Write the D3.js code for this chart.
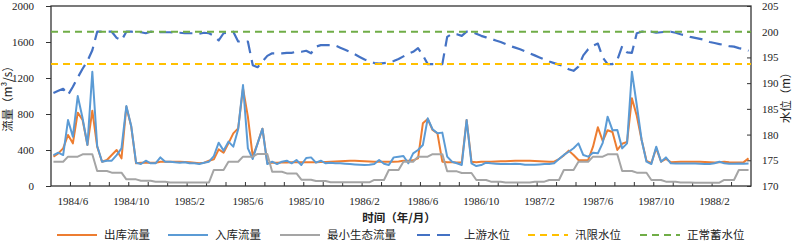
<!DOCTYPE html>
<html><head><meta charset="utf-8">
<script src="https://cdn.jsdelivr.net/npm/d3@7"></script>
<style>
html,body{margin:0;padding:0;background:#fff;}
svg{display:block;}
.num{font-family:"Liberation Serif","Times New Roman",serif;font-size:11px;fill:#222;}
.cjk{font-family:"Noto Sans CJK SC","Noto Sans",sans-serif;fill:#222;}
</style></head>
<body>
<svg id="chart" width="798" height="242"></svg>
<script>
// 10-day periods (旬), 144 of them
const periods = d3.range(144);

const outflow = [
 326, 363, 418, 567, 474, 815, 733, 456, 837, 437, 270, 289,
 344, 400, 307, 880, 660, 252, 259, 259, 259, 259, 270, 270,
 270, 270, 270, 268, 263, 259, 252, 259, 281, 296, 407, 370,
 474, 585, 640, 1085, 770, 326, 474, 637, 255, 259, 259, 262,
 262, 265, 265, 265, 265, 265, 265, 268, 268, 270, 272, 275,
 278, 281, 281, 278, 275, 272, 270, 270, 270, 270, 270, 272,
 281, 281, 285, 307, 696, 744, 622, 585, 270, 265, 265, 262,
 262, 733, 270, 265, 270, 270, 270, 272, 275, 275, 278, 280,
 281, 281, 281, 278, 275, 272, 270, 270, 300, 340, 393, 344,
 289, 285, 289, 437, 652, 500, 620, 600, 400, 470, 490, 974,
 780, 511, 280, 255, 420, 270, 300, 265, 268, 270, 270, 270,
 270, 270, 268, 265, 262, 265, 270, 265, 262, 262, 265, 307
];

const inflow = [
 344, 370, 344, 733, 548, 1000, 752, 456, 1270, 444, 270, 281,
 281, 344, 418, 889, 667, 259, 244, 281, 252, 252, 318, 270,
 270, 263, 259, 263, 252, 252, 244, 259, 270, 333, 481, 393,
 493, 437, 630, 1122, 418, 300, 474, 637, 244, 270, 244, 270,
 281, 252, 289, 233, 311, 318, 259, 281, 252, 259, 252, 252,
 248, 244, 240, 236, 233, 236, 244, 289, 248, 233, 318, 326,
 333, 252, 363, 400, 456, 752, 630, 585, 593, 326, 270, 252,
 233, 733, 252, 222, 233, 259, 252, 248, 244, 244, 244, 248,
 244, 237, 237, 237, 240, 244, 244, 252, 300, 345, 381, 420,
 474, 344, 326, 370, 363, 480, 770, 620, 622, 418, 474, 1270,
 900, 511, 270, 244, 437, 270, 318, 252, 250, 250, 250, 250,
 250, 248, 244, 244, 252, 270, 252, 248, 248, 250, 248, 250
];

const minEcoFlow = [
 270,270,270, 326,326,326, 352,352,352, 167,167,167,
 148,148,148, 74,74,74, 59,59,59, 48,48,48,
 40,40,40, 40,40,40, 40,40,40, 178,178,178,
 270,270,270, 326,326,326, 356,356,356, 159,159,159,
 140,140,140, 70,70,70, 55,55,55, 41,41,41,
 41,41,41, 41,41,41, 67,67,67, 178,178,178,
 270,270,270, 326,326,326, 354,354,354, 163,163,163,
 145,145,145, 67,67,67, 48,48,48, 40,40,40,
 40,40,40, 48,48,48, 67,67,67, 178,178,178,
 270,270,270, 326,326,326, 352,352,352, 167,167,167,
 148,148,148, 67,67,67, 48,48,48, 40,40,40,
 37,37,37, 37,37,37, 67,67,67, 178,178,178
];

const upstreamLevel = [
 188.1, 188.5, 188.9, 187.7, 189.3, 191.1, 192.8, 194.3, 196.4, 200.0, 200.0, 200.0,
 200.0, 198.8, 198.3, 200.0, 200.0, 199.9, 199.9, 199.7, 200.0, 199.9, 199.9, 199.9,
 199.9, 199.8, 199.8, 199.7, 199.7, 199.7, 199.6, 199.8, 199.7, 199.2, 198.3, 199.7,
 199.8, 200.0, 198.1, 198.1, 198.1, 193.5, 193.1, 194.2, 195.3, 195.8, 195.8, 195.8,
 195.9, 195.9, 196.1, 196.1, 196.3, 195.8, 197.1, 197.4, 197.4, 197.4, 197.3, 196.9,
 196.5, 196.1, 195.6, 195.1, 194.6, 194.3, 193.9, 193.8, 193.9, 194.0, 194.3, 194.7,
 195.2, 195.7, 196.1, 196.8, 195.4, 193.7, 193.7, 193.7, 193.7, 199.0, 199.6, 199.5,
 199.2, 200.0, 200.0, 199.6, 199.2, 198.9, 198.6, 198.3, 198.0, 197.6, 197.2, 196.9,
 196.6, 196.2, 195.8, 195.4, 195.0, 194.6, 194.2, 193.9, 193.6, 193.3, 192.7, 192.4,
 193.2, 195.4, 196.6, 197.3, 197.7, 195.0, 193.7, 193.7, 194.5, 197.2, 196.0, 195.9,
 199.7, 200.0, 200.0, 200.0, 199.8, 199.9, 200.0, 200.0, 199.8, 199.5, 199.3, 199.0,
 198.8, 198.6, 198.4, 198.0, 197.8, 197.6, 197.4, 197.2, 197.1, 196.8, 196.6, 196.3
];

const floodLimitLevel = 193.7;
const normalPoolLevel = 200;

const xTickLabels = ["1984/6","1984/10","1985/2","1985/6","1985/10","1986/2","1986/6","1986/10","1987/2","1987/6","1987/10","1988/2"];
const xTickLabelPeriods = [4,16,28,40,52,64,76,88,100,112,124,136];
const flowTicks = [0,400,800,1200,1600,2000];
const levelTicks = [170,175,180,185,190,195,200,205];

const legendItems = [
  {name:"出库流量", color:"#ED7D31", dash:null},
  {name:"入库流量", color:"#5B9BD5", dash:null},
  {name:"最小生态流量", color:"#A5A5A5", dash:null},
  {name:"上游水位", color:"#4472C4", dash:"13,7"},
  {name:"汛限水位", color:"#FFC000", dash:"7,5"},
  {name:"正常蓄水位", color:"#70AD47", dash:"7,5"}
];

const L = 51, R = 751, T = 6, B = 186;
const svg = d3.select("#chart");

const x = d3.scaleBand().domain(periods).range([L, R]).padding(0);
const cx = i => x(i) + x.bandwidth() / 2;
const yFlow = d3.scaleLinear().domain([0, 2000]).range([B, T]);
const yLevel = d3.scaleLinear().domain([170, 205]).range([B, T]);

// left axis
const leftAxis = d3.axisLeft(yFlow).tickValues(flowTicks).tickSize(5).tickPadding(12).tickFormat(d3.format("d"));
const gl = svg.append("g").attr("transform", `translate(${L},0)`).call(leftAxis);
gl.select(".domain").remove();
gl.selectAll(".tick line").attr("stroke", "#333");
gl.selectAll("text").attr("class", "num").attr("font-size", null).attr("font-family", null);

// right axis
const rightAxis = d3.axisRight(yLevel).tickValues(levelTicks).tickSize(-4).tickPadding(11).tickFormat(d3.format("d"));
const gr = svg.append("g").attr("transform", `translate(${R},0)`).call(rightAxis);
gr.select(".domain").remove();
gr.selectAll(".tick line").attr("stroke", "#333");
gr.selectAll("text").attr("class", "num").attr("font-size", null).attr("font-family", null);

// bottom tick marks at band boundaries every 4 periods
const tickBounds = periods.filter(i => i % 4 === 0 && i > 0);
svg.append("g").selectAll("line").data(tickBounds).join("line")
  .attr("x1", d => x(d)).attr("x2", d => x(d))
  .attr("y1", B).attr("y2", B - 4)
  .attr("stroke", "#333").attr("stroke-width", 1);

// bottom labels
svg.append("g").selectAll("text").data(xTickLabelPeriods).join("text")
  .attr("class", "num")
  .attr("x", d => cx(d)).attr("y", 205)
  .attr("text-anchor", "middle")
  .text((d, k) => xTickLabels[k]);

// frame
svg.append("rect").attr("x", L).attr("y", T).attr("width", R - L).attr("height", B - T)
  .attr("fill", "none").attr("stroke", "#333").attr("stroke-width", 1.3);

const lineFlow = d3.line().x((d, i) => cx(i)).y(d => yFlow(d));
const lineLevel = d3.line().x((d, i) => cx(i)).y(d => yLevel(d));

const plot = svg.append("g");
plot.append("path").datum(outflow).attr("d", lineFlow)
  .attr("fill", "none").attr("stroke", "#ED7D31").attr("stroke-width", 2).attr("stroke-linejoin", "round");
plot.append("path").datum(inflow).attr("d", lineFlow)
  .attr("fill", "none").attr("stroke", "#5B9BD5").attr("stroke-width", 2).attr("stroke-linejoin", "round");
plot.append("path").datum(minEcoFlow).attr("d", lineFlow)
  .attr("fill", "none").attr("stroke", "#A5A5A5").attr("stroke-width", 2).attr("stroke-linejoin", "round");
plot.append("path").datum(upstreamLevel).attr("d", lineLevel)
  .attr("fill", "none").attr("stroke", "#4472C4").attr("stroke-width", 2.2)
  .attr("stroke-dasharray", "13,7").attr("stroke-linejoin", "round");

// constant reference levels across whole plot width
const refLine = d3.line().x(d => d[0]).y(d => yLevel(d[1]));
plot.append("path").datum([[L, floodLimitLevel], [R, floodLimitLevel]]).attr("d", refLine)
  .attr("fill", "none").attr("stroke", "#FFC000").attr("stroke-width", 2).attr("stroke-dasharray", "7,5");
plot.append("path").datum([[L, normalPoolLevel], [R, normalPoolLevel]]).attr("d", refLine)
  .attr("fill", "none").attr("stroke", "#70AD47").attr("stroke-width", 2).attr("stroke-dasharray", "7,5");

// axis titles
svg.append("text").attr("class", "cjk").attr("font-size", 11.5)
  .attr("transform", "translate(12,96) rotate(-90)").attr("text-anchor", "middle")
  .text("流量（m³/s）");
svg.append("text").attr("class", "cjk").attr("font-size", 11.5)
  .attr("transform", "translate(790,95) rotate(-90)").attr("text-anchor", "middle")
  .text("水位（m）");
svg.append("text").attr("class", "cjk").attr("font-size", 11.5).attr("font-weight", "bold")
  .attr("x", 399).attr("y", 222).attr("text-anchor", "middle")
  .text("时间（年/月）");

// legend
const legendX = [57, 168, 280, 417, 528, 640];
const lg = svg.append("g");
legendItems.forEach((it, k) => {
  const g = lg.append("g").attr("transform", `translate(${legendX[k]},235)`);
  g.append("line").attr("x1", 0).attr("x2", 40).attr("y1", 0).attr("y2", 0)
    .attr("stroke", it.color).attr("stroke-width", 2.2)
    .attr("stroke-dasharray", it.dash);
  g.append("text").attr("class", "cjk").attr("font-size", 11.5)
    .attr("x", 47).attr("y", 4).text(it.name);
});
</script>
</body></html>
